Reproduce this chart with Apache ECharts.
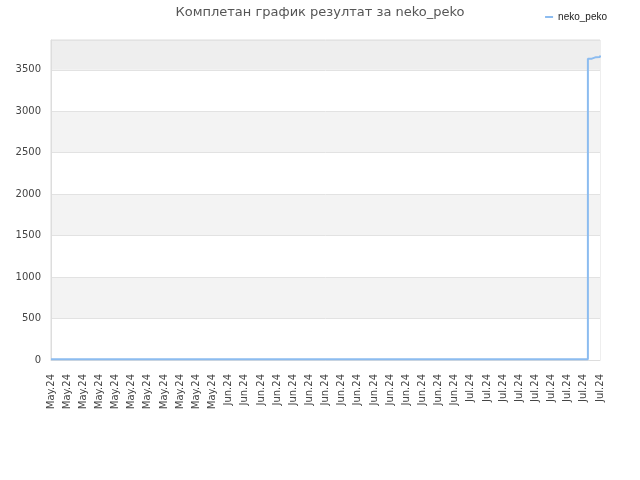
<!DOCTYPE html>
<html>
<head>
<meta charset="utf-8">
<script src="https://cdn.jsdelivr.net/npm/echarts@6/dist/echarts.min.js"></script>
<style>html,body{margin:0;padding:0;background:#fff}#c{width:640px;height:480px}</style>
</head>
<body>
<div id="c"></div>
<script>
// Categories: two samples per day, labels every 2 days
const mayDays = ['May.24','May.24','May.24','May.24','May.24','May.24','May.24','May.24','May.24','May.24','May.24','May.24','May.24','May.24','May.24','May.24','May.24','May.24','May.24','May.24','May.24','May.24','May.24','May.24','May.24','May.24','May.24','May.24','May.24','May.24','May.24','May.24','May.24','May.24','May.24','May.24','May.24','May.24','May.24','May.24','May.24','May.24'];
const junDays = ['Jun.24','Jun.24','Jun.24','Jun.24','Jun.24','Jun.24','Jun.24','Jun.24','Jun.24','Jun.24','Jun.24','Jun.24','Jun.24','Jun.24','Jun.24','Jun.24','Jun.24','Jun.24','Jun.24','Jun.24','Jun.24','Jun.24','Jun.24','Jun.24','Jun.24','Jun.24','Jun.24','Jun.24','Jun.24','Jun.24','Jun.24','Jun.24','Jun.24','Jun.24','Jun.24','Jun.24','Jun.24','Jun.24','Jun.24','Jun.24','Jun.24','Jun.24','Jun.24','Jun.24','Jun.24','Jun.24','Jun.24','Jun.24','Jun.24','Jun.24','Jun.24','Jun.24','Jun.24','Jun.24','Jun.24','Jun.24','Jun.24','Jun.24','Jun.24','Jun.24'];
const julDays = ['Jul.24','Jul.24','Jul.24','Jul.24','Jul.24','Jul.24','Jul.24','Jul.24','Jul.24','Jul.24','Jul.24','Jul.24','Jul.24','Jul.24','Jul.24','Jul.24','Jul.24','Jul.24','Jul.24','Jul.24','Jul.24','Jul.24','Jul.24','Jul.24','Jul.24','Jul.24','Jul.24','Jul.24','Jul.24','Jul.24','Jul.24','Jul.24','Jul.24','Jul.24','Jul.24'];
const categories = mayDays.concat(junDays, julDays);

const seriesName = 'neko_peko';
const mayValues = [10,10,10,10,10,10,10,10,10,10,10,10,10,10,10,10,10,10,10,10,10,10,10,10,10,10,10,10,10,10,10,10,10,10,10,10,10,10,10,10,10,10];
const junValues = [10,10,10,10,10,10,10,10,10,10,10,10,10,10,10,10,10,10,10,10,10,10,10,10,10,10,10,10,10,10,10,10,10,10,10,10,10,10,10,10,10,10,10,10,10,10,10,10,10,10,10,10,10,10,10,10,10,10,10,10];
const julValues = [10,10,10,10,10,10,10,10,10,10,10,10,10,10,10,10,10,10,10,10,10,10,10,10,10,10,10,10,10,10,10,3635,3653,3655,3672];
const values = mayValues.concat(junValues, julValues);

const yTicks = [0,500,1000,1500,2000,2500,3000,3500];
const yMax = 3860;

const chart = echarts.init(document.getElementById('c'));
chart.setOption({
  animation: false,
  backgroundColor: '#ffffff',
  title: {
    text: 'Комплетан график резултат за neko_peko',
    left: 'center',
    top: 1,
    textStyle: { fontFamily: 'DejaVu Sans', fontSize: 13, fontWeight: 'normal', color: '#555555' }
  },
  legend: {
    data: [seriesName],
    right: 28,
    top: 7,
    itemWidth: 8,
    itemHeight: 2,
    itemGap: 6,
    icon: 'rect',
    textStyle: { fontFamily: 'Liberation Sans', fontSize: 10, color: '#222' }
  },
  grid: {
    left: 51, right: 40, top: 40, bottom: 120,
    show: true, borderColor: '#dddddd', borderWidth: 1, backgroundColor: 'transparent'
  },
  xAxis: {
    type: 'category',
    data: categories,
    boundaryGap: false,
    axisLine: { lineStyle: { color: '#dddddd' } },
    axisTick: { show: false },
    axisLabel: {
      interval: 3,
      rotate: 90,
      fontFamily: 'DejaVu Sans',
      fontSize: 10,
      color: '#444444',
      margin: 14
    }
  },
  yAxis: {
    type: 'value',
    min: 0,
    max: yMax,
    interval: 500,
    axisLine: { show: true, lineStyle: { color: '#dddddd' } },
    axisTick: { show: false },
    axisLabel: {
      fontFamily: 'DejaVu Sans',
      fontSize: 10,
      color: '#444444',
      margin: 10,
      formatter: function (v) { return yTicks.indexOf(v) >= 0 ? String(v) : ''; }
    },
    splitLine: { lineStyle: { color: '#e2e2e2' } },
    splitArea: {
      show: true,
      areaStyle: { color: ['#ffffff','#f3f3f3','#ffffff','#f3f3f3','#ffffff','#f3f3f3','#ffffff','#eeeeee'] }
    }
  },
  series: [{
    name: seriesName,
    type: 'line',
    step: 'end',
    data: values,
    showSymbol: false,
    symbol: 'none',
    lineStyle: { color: '#8cbcf0', width: 2 },
    itemStyle: { color: '#8cbcf0' }
  }]
});
</script>
</body>
</html>
